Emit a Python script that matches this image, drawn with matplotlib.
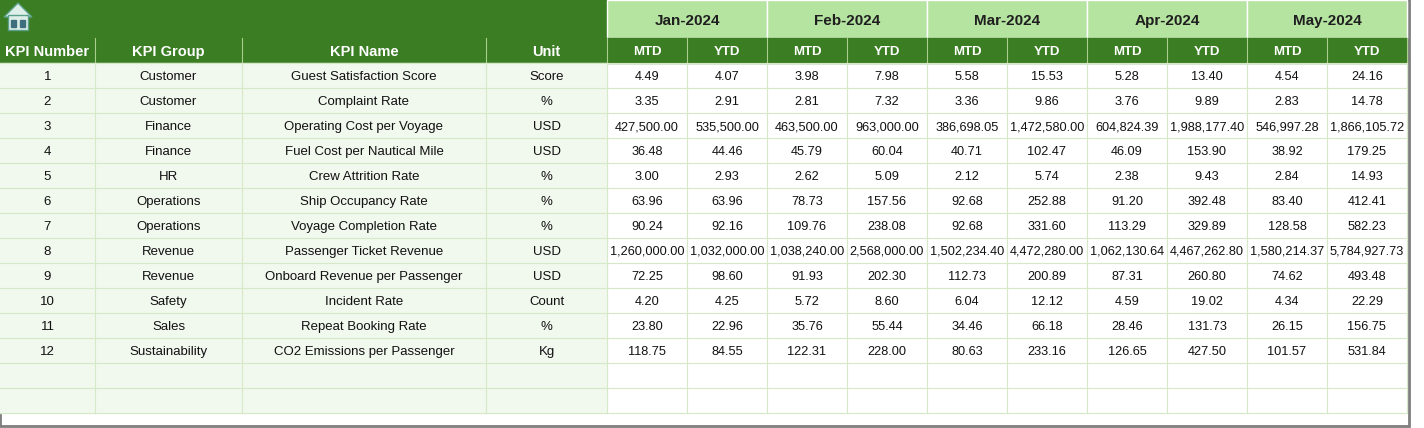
import matplotlib.pyplot as plt
from matplotlib.patches import Rectangle, Polygon

plt.rcParams['font.family'] = ['Liberation Sans', 'DejaVu Sans']

months = ['Jan-2024', 'Feb-2024', 'Mar-2024', 'Apr-2024', 'May-2024']
kpi_num = [str(i) for i in range(1, 13)]
kpi_group = ['Customer', 'Customer', 'Finance', 'Finance', 'HR', 'Operations', 'Operations',
             'Revenue', 'Revenue', 'Safety', 'Sales', 'Sustainability']
kpi_name = ['Guest Satisfaction Score', 'Complaint Rate', 'Operating Cost per Voyage',
            'Fuel Cost per Nautical Mile', 'Crew Attrition Rate', 'Ship Occupancy Rate',
            'Voyage Completion Rate', 'Passenger Ticket Revenue', 'Onboard Revenue per Passenger',
            'Incident Rate', 'Repeat Booking Rate', 'CO2 Emissions per Passenger']
units = ['Score', '%', 'USD', 'USD', '%', '%', '%', 'USD', 'USD', 'Count', '%', 'Kg']
# MTD, YTD per month
values = [
    [4.49, 4.07, 3.98, 7.98, 5.58, 15.53, 5.28, 13.40, 4.54, 24.16],
    [3.35, 2.91, 2.81, 7.32, 3.36, 9.86, 3.76, 9.89, 2.83, 14.78],
    [427500.00, 535500.00, 463500.00, 963000.00, 386698.05, 1472580.00, 604824.39, 1988177.40, 546997.28, 1866105.72],
    [36.48, 44.46, 45.79, 60.04, 40.71, 102.47, 46.09, 153.90, 38.92, 179.25],
    [3.00, 2.93, 2.62, 5.09, 2.12, 5.74, 2.38, 9.43, 2.84, 14.93],
    [63.96, 63.96, 78.73, 157.56, 92.68, 252.88, 91.20, 392.48, 83.40, 412.41],
    [90.24, 92.16, 109.76, 238.08, 92.68, 331.60, 113.29, 329.89, 128.58, 582.23],
    [1260000.00, 1032000.00, 1038240.00, 2568000.00, 1502234.40, 4472280.00, 1062130.64, 4467262.80, 1580214.37, 5784927.73],
    [72.25, 98.60, 91.93, 202.30, 112.73, 200.89, 87.31, 260.80, 74.62, 493.48],
    [4.20, 4.25, 5.72, 8.60, 6.04, 12.12, 4.59, 19.02, 4.34, 22.29],
    [23.80, 22.96, 35.76, 55.44, 34.46, 66.18, 28.46, 131.73, 26.15, 156.75],
    [118.75, 84.55, 122.31, 228.00, 80.63, 233.16, 126.65, 427.50, 101.57, 531.84],
]

DARK = '#3A7D22'
LIGHT = '#B5E3A0'
ROWBG = '#F1F8EE'
GRID = '#D5E8C8'

fig = plt.figure(figsize=(14.24, 4.28), dpi=100)
ax = fig.add_axes([0, 0, 1, 1])
ax.set_xlim(0, 1424)
ax.set_ylim(428, 0)
ax.axis('off')

col_x = [0, 95, 242, 486, 607] + [607 + 80 * i for i in range(1, 11)]
h1, h2, rh = 38, 63, 25
n_rows = 14
bottom = h2 + rh * n_rows

# frame
ax.add_patch(Rectangle((0, 0), 1409, 426, fill=False, ec='#7F7F7F', lw=2))
# top header
ax.add_patch(Rectangle((0, 0), 607, h1, color=DARK))
for i, m in enumerate(months):
    x0 = 607 + 160 * i
    ax.add_patch(Rectangle((x0, 0), 160, h1, fc=LIGHT, ec='white', lw=1))
    ax.text(x0 + 80, h1 / 2, m, ha='center', va='center_baseline', fontsize=11, weight='bold', color='#1F1F1F')
# house icon
ax.add_patch(Polygon([[4, 17], [18, 3], [32, 17]], closed=True, fc='#DDEFE8', ec='#5BA08A', lw=1))
ax.add_patch(Rectangle((8, 15), 20, 15, fc='#DDEFE8', ec='#5BA08A', lw=1))
ax.add_patch(Rectangle((11, 20), 5, 7, color='#3F6F7F'))
ax.add_patch(Rectangle((20, 20), 5, 7, color='#3F6F7F'))

# second header
heads = ['KPI Number', 'KPI Group', 'KPI Name', 'Unit'] + ['MTD', 'YTD'] * 5
ax.add_patch(Rectangle((0, h1), col_x[-1], h2 - h1, color=DARK))
for j, t in enumerate(heads):
    xc = (col_x[j] + col_x[j + 1]) / 2
    ax.text(xc, (h1 + h2) / 2, t, ha='center', va='center_baseline', fontsize=10.5 if j < 4 else 9.5,
            weight='bold', color='white')
    ax.plot([col_x[j + 1]] * 2, [h1, h2], color='#A9D08E', lw=0.8)

# body
ax.add_patch(Rectangle((0, h2), 607, bottom - h2, color=ROWBG))
for r in range(n_rows + 1):
    y = h2 + rh * r
    ax.plot([0, col_x[-1]], [y, y], color=GRID, lw=0.8)
for x in col_x[1:]:
    ax.plot([x, x], [h2, bottom], color=GRID, lw=0.8)

for r in range(len(kpi_num)):
    yc = h2 + rh * r + rh / 2
    row = [kpi_num[r], kpi_group[r], kpi_name[r], units[r]] + [f'{v:,.2f}' for v in values[r]]
    for j, t in enumerate(row):
        xc = (col_x[j] + col_x[j + 1]) / 2
        ax.text(xc, yc, t, ha='center', va='center_baseline', fontsize=9.5 if j < 4 else 9.2,
                color='#111111')

fig.savefig('out.png', dpi=100, facecolor='white')
